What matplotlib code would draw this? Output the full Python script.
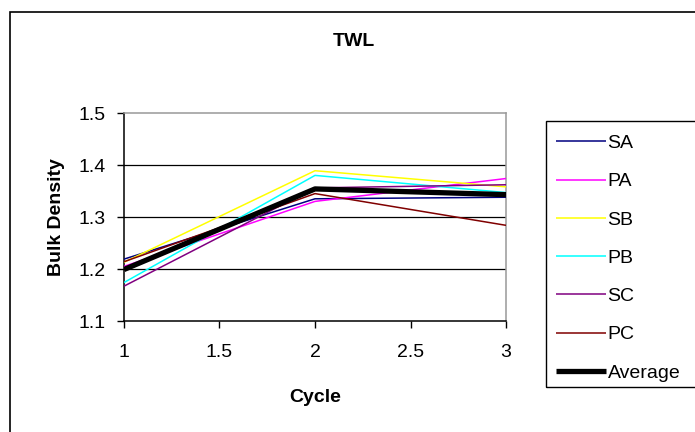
import matplotlib
matplotlib.use("Agg")
import matplotlib.pyplot as plt
from matplotlib.patches import Rectangle

plt.rcParams['font.family'] = ['Liberation Sans', 'DejaVu Sans']

cycles = [1, 2, 3]
SA = [1.219, 1.335, 1.338]
PA = [1.205, 1.330, 1.374]
SB = [1.213, 1.389, 1.358]
PB = [1.174, 1.380, 1.347]
SC = [1.167, 1.356, 1.362]
PC = [1.214, 1.345, 1.284]
Average = [1.199, 1.354, 1.343]

series = [("SA", SA, "#000080", 1.1), ("PA", PA, "#FF00FF", 1.1), ("SB", SB, "#FFFF00", 1.1),
          ("PB", PB, "#00FFFF", 1.1), ("SC", SC, "#800080", 1.1), ("PC", PC, "#800000", 1.1),
          ("Average", Average, "#000000", 3.8)]

FS = 14
W, H = 695, 432
fig = plt.figure(figsize=(W/100, H/100), dpi=100)
L, R, T, B = 124, 506, 113, 321
ax = fig.add_axes([L/W, 1-B/H, (R-L)/W, (B-T)/H])

for name, vals, col, lw in series:
    ax.plot(cycles, vals, color=col, lw=lw, label=name, solid_capstyle='butt', zorder=3)

ax.set_xlim(1, 3)
ax.set_ylim(1.1, 1.5)
ax.set_xticks([1, 1.5, 2, 2.5, 3])
ax.set_xticklabels(["1", "1.5", "2", "2.5", "3"])
ax.set_yticks([1.1, 1.2, 1.3, 1.4, 1.5])
ax.set_yticklabels(["1.1", "1.2", "1.3", "1.4", "1.5"])
ax.tick_params(direction='out', length=5, width=1, labelsize=FS, color='black')
ax.tick_params(axis='x', pad=11.5)
ax.tick_params(axis='y', pad=8)
for yv in [1.2, 1.3, 1.4]:
    ax.axhline(yv, color='black', lw=0.9, zorder=1)
ax.spines['left'].set_color('black')
ax.spines['bottom'].set_color('black')
ax.spines['top'].set_color('#999999')
ax.spines['right'].set_color('#999999')
for s in ax.spines.values():
    s.set_linewidth(1.1)

ax.set_xlabel("Cycle", fontsize=FS, fontweight='bold', labelpad=20)
ax.set_ylabel("Bulk Density", fontsize=FS, fontweight='bold', labelpad=10)
fig.text(354/W, 1-42/H, "TWL", fontsize=FS, fontweight='bold', ha='center', va='center')

# outer border
fig.add_artist(Rectangle((10/W, -0.1), 1.2, 1-12/H+0.1, transform=fig.transFigure,
                         fill=False, edgecolor='black', lw=1.2))
# legend frame
fig.add_artist(Rectangle((546/W, 1-387/H), 1.2, (387-121)/H, transform=fig.transFigure,
                         fill=False, edgecolor='black', lw=1.0))
leg = fig.legend(loc='upper left', bbox_to_anchor=(542/W, 1-121/H), frameon=False,
                 fontsize=FS, handlelength=2.57, handletextpad=0.1, labelspacing=1.06,
                 borderpad=0.2)

fig.savefig("out.png", dpi=100)
